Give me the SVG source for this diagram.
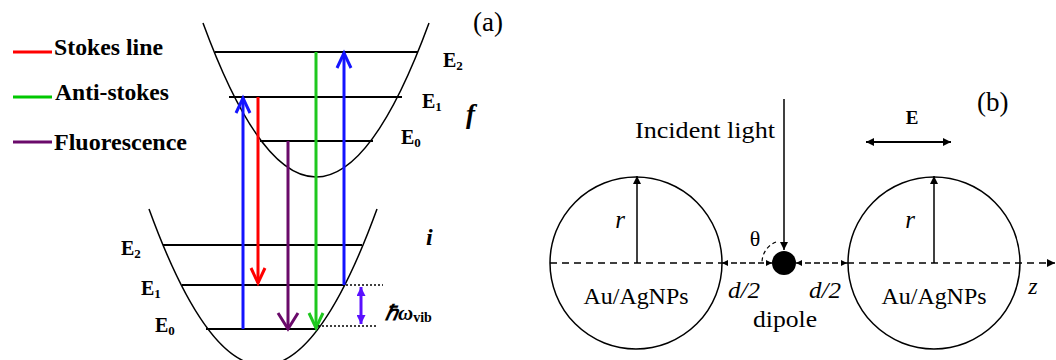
<svg xmlns="http://www.w3.org/2000/svg" width="1056" height="360" viewBox="0 0 1056 360">
<style>
.curve{fill:none;stroke:#000;stroke-width:1.5}
.lvl{stroke:#000;stroke-width:2}
.ar{fill:none;stroke-width:3}
.thin{stroke:#000;stroke-width:1.5;fill:none}
.dash{stroke:#000;stroke-width:1.3;stroke-dasharray:7,5;fill:none}
.dot{stroke:#000;stroke-width:1.3;stroke-dasharray:2,2;fill:none}
</style>
<defs>
<marker id="tri" viewBox="0 0 10 10" refX="10" refY="5" markerWidth="12" markerHeight="8" markerUnits="userSpaceOnUse" orient="auto-start-reverse">
<path d="M0,0L10,5L0,10z" fill="#000"/>
</marker>
<marker id="tris" viewBox="0 0 10 10" refX="10" refY="5" markerWidth="8" markerHeight="6" markerUnits="userSpaceOnUse" orient="auto-start-reverse">
<path d="M0,0L10,5L0,10z" fill="#000"/>
</marker>
<marker id="vtri" viewBox="0 0 10 10" refX="10" refY="5" markerWidth="10" markerHeight="9" markerUnits="userSpaceOnUse" orient="auto-start-reverse">
<path d="M0,0L10,5L0,10z" fill="#5a10ff"/>
</marker>
</defs>
<rect x="0" y="0" width="1056" height="360" fill="#fff"/>

<g font-family="'Liberation Serif', 'Times New Roman', serif" fill="#000">

<g id="legend" font-weight="bold" font-size="24">
<line x1="13" y1="52" x2="52" y2="52" stroke="#ff0000" stroke-width="3"/>
<text x="54" y="55" textLength="109" lengthAdjust="spacingAndGlyphs">Stokes line</text>
<line x1="13" y1="97" x2="52" y2="97" stroke="#00c800" stroke-width="3"/>
<text x="55" y="100" textLength="114" lengthAdjust="spacingAndGlyphs">Anti-stokes</text>
<line x1="13" y1="142" x2="52" y2="142" stroke="#6a0a6a" stroke-width="3"/>
<text x="54" y="150" textLength="133" lengthAdjust="spacingAndGlyphs">Fluorescence</text>
</g>

<g id="label-a"><text x="473" y="31" font-size="27">(a)</text></g>

<g id="state-f">
<path class="curve" d="M203,23 Q316,331 429,23"/>
<line class="lvl" x1="215" y1="52" x2="418" y2="52"/>
<line class="lvl" x1="229" y1="97" x2="402" y2="97"/>
<line class="lvl" x1="260" y1="141" x2="373" y2="141"/>
<g font-weight="bold" font-size="20">
<text x="443" y="67">E<tspan font-size="13" dy="3">2</tspan></text>
<text x="422" y="108">E<tspan font-size="13" dy="3">1</tspan></text>
<text x="401" y="144">E<tspan font-size="13" dy="3">0</tspan></text>
</g>
<text x="466" y="123" font-weight="bold" font-style="italic" font-size="27">f</text>
</g>

<g id="state-i">
<path class="curve" d="M149,209 Q263,522 377,209"/>
<line class="lvl" x1="163" y1="245" x2="362" y2="245"/>
<line class="lvl" x1="182" y1="285" x2="345" y2="285"/>
<line class="lvl" x1="206" y1="329" x2="316" y2="329"/>
<g font-weight="bold" font-size="20">
<text x="121" y="255">E<tspan font-size="13" dy="3">2</tspan></text>
<text x="141" y="295">E<tspan font-size="13" dy="3">1</tspan></text>
<text x="155" y="332">E<tspan font-size="13" dy="3">0</tspan></text>
</g>
<text x="426" y="245" font-weight="bold" font-style="italic" font-size="24">i</text>
</g>

<g id="connectors">
<line x1="243" y1="329" x2="243" y2="98" stroke="#1414ff" stroke-width="3"/>
<polyline class="ar" stroke="#1414ff" points="236,113 243,98 250,113"/>
<line x1="258" y1="97" x2="258" y2="283" stroke="#ff0000" stroke-width="3"/>
<polyline class="ar" stroke="#ff0000" points="251,268 258,283 265,268"/>
<line x1="288" y1="141" x2="288" y2="329" stroke="#6a0a6a" stroke-width="3"/>
<polyline class="ar" stroke="#6a0a6a" points="278,313 288,329 298,313"/>
<line x1="316" y1="52" x2="316" y2="328" stroke="#1ec81e" stroke-width="3"/>
<polyline class="ar" stroke="#1ec81e" points="309,313 316,328 323,313"/>
<line x1="344" y1="285" x2="344" y2="53" stroke="#1414ff" stroke-width="3"/>
<polyline class="ar" stroke="#1414ff" points="337,68 344,53 351,68"/>
<line class="dot" x1="346" y1="285" x2="383" y2="285"/>
<line class="dot" x1="318" y1="326" x2="377" y2="326"/>
<line x1="361" y1="287" x2="361" y2="324" stroke="#5a10ff" stroke-width="3" marker-start="url(#vtri)" marker-end="url(#vtri)"/>
<line class="thin" x1="784" y1="99" x2="784" y2="250" marker-end="url(#tri)"/>
<line class="dash" x1="550" y1="263" x2="722" y2="263"/>
<line class="dash" x1="847" y1="263" x2="1055" y2="263" marker-end="url(#tri)"/>
<line class="dash" x1="722" y1="263" x2="772" y2="263" marker-start="url(#tris)" marker-end="url(#tris)" style="stroke-dasharray:6,3"/>
<line class="dash" x1="796" y1="263" x2="847" y2="263" marker-start="url(#tris)" marker-end="url(#tris)" style="stroke-dasharray:6,3"/>
<path d="M776,242 A22,22 0 0 0 762,262" fill="none" stroke="#000" stroke-width="1.2" stroke-dasharray="4,3"/>
<line class="thin" x1="637" y1="263" x2="637" y2="176" marker-end="url(#tri)"/>
<line class="thin" x1="934" y1="263" x2="934" y2="176" marker-end="url(#tri)"/>
<line stroke="#000" stroke-width="2" x1="866" y1="142" x2="951" y2="142" marker-start="url(#tri)" marker-end="url(#tri)"/>
</g>

<g id="hbar-label"><text x="385" y="320" font-weight="bold" font-style="italic" font-size="21">ℏω<tspan font-style="normal" font-size="14" dy="2">vib</tspan></text></g>

<g id="label-b"><text x="977" y="111" font-size="27">(b)</text></g>

<g id="incident"><text x="775" y="138" font-size="24" text-anchor="end" textLength="140" lengthAdjust="spacingAndGlyphs">Incident light</text></g>

<g id="E-field"><text x="912" y="124" text-anchor="middle" font-weight="bold" font-size="19">E</text></g>

<g id="np-left">
<circle class="thin" cx="636" cy="263" r="86"/>
<text x="620" y="228" text-anchor="middle" font-style="italic" font-size="25">r</text>
<text x="636" y="304" text-anchor="middle" font-size="24" textLength="105" lengthAdjust="spacingAndGlyphs">Au/AgNPs</text>
</g>

<g id="np-right">
<circle class="thin" cx="934" cy="263" r="86"/>
<text x="910" y="228" text-anchor="middle" font-style="italic" font-size="25">r</text>
<text x="934" y="304" text-anchor="middle" font-size="24" textLength="105" lengthAdjust="spacingAndGlyphs">Au/AgNPs</text>
</g>

<g id="dipole">
<circle cx="784" cy="263" r="12" fill="#000"/>
<text x="785" y="327" text-anchor="middle" font-size="24" textLength="64" lengthAdjust="spacingAndGlyphs">dipole</text>
<text x="755" y="246" text-anchor="middle" font-size="22">θ</text>
</g>

<g id="gap-labels" font-style="italic" font-size="24">
<text x="744" y="298" text-anchor="middle" textLength="32" lengthAdjust="spacingAndGlyphs">d/2</text>
<text x="825" y="298" text-anchor="middle" textLength="32" lengthAdjust="spacingAndGlyphs">d/2</text>
<text x="1033" y="294" text-anchor="middle">z</text>
</g>

</g>
</svg>
